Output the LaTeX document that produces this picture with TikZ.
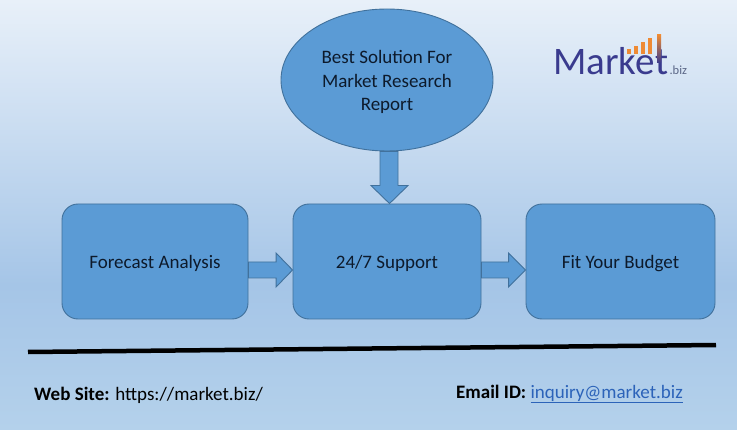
\documentclass[tikz,border=0pt]{standalone}
\usepackage{fontspec}
\setmainfont{Carlito}
\usetikzlibrary{calc,shapes.geometric}
\definecolor{boxfill}{HTML}{5B9BD5}
\definecolor{boxline}{HTML}{41719C}
\definecolor{txt}{HTML}{0D1A2B}
\definecolor{bgtop}{HTML}{E8F0F9}
\definecolor{bgmid}{HTML}{A5C5E7}
\definecolor{bgbot}{HTML}{B4D1EB}
\definecolor{logoblue}{HTML}{3A3B8E}
\definecolor{logoorange}{HTML}{EE8A34}
\definecolor{bizgrey}{HTML}{5A6686}
\definecolor{linkblue}{HTML}{2C63B9}
\begin{document}
\begin{tikzpicture}[x=1pt,y=1pt,
  box/.style={draw=boxline, fill=boxfill, line width=0.9pt, rounded corners=16pt,
    minimum width=186pt, minimum height=115pt, text=txt, inner sep=0pt, text depth=0pt,
    font=\fontsize{19}{23.5}\selectfont},
  oval/.style={ellipse, draw=boxline, fill=boxfill, line width=0.9pt,
    minimum width=212pt, minimum height=142pt, inner sep=0pt},
  ovaltext/.style={text=txt, align=center, inner sep=0pt,
    font=\fontsize{19}{23.5}\selectfont},
  blockarrow/.style={draw=boxline, fill=boxfill, line width=0.9pt, line join=miter},
  foot/.style={anchor=base west, text=black, inner sep=0pt, font=\fontsize{19}{22}\selectfont},
  logo/.style={anchor=base west, inner sep=0pt, text=logoblue, font=\fontsize{39}{40}\selectfont}]
\shade[top color=bgtop, bottom color=bgmid] (0,144) rectangle (737,429);
\shade[top color=bgmid, bottom color=bgbot] (0,0) rectangle (737,144.5);
\useasboundingbox (0,0) rectangle (737,429);

% nodes
\node[box] (fa) at (155,167.5) {Forecast Analysis};
\node[box, minimum width=188pt] (sup) at (387,167.5) {24/7 Support};
\node[box, minimum width=189pt] (fyb) at (620.5,167.5) {Fit Your Budget};
\node[oval] (best) at (387,349) {};
\node[ovaltext] (besttext) at ($(best.center)+(0,-2)$) {Best Solution For\\Market Research\\Report};

% block arrows
\draw[blockarrow] ($(best.south)+(-7,0)$) -- ($(sup.north)+(-7,18)$) -- ($(sup.north)+(-16,18)$)
  -- ($(sup.north)+(2.5,0)$) -- ($(sup.north)+(21,18)$) -- ($(sup.north)+(11,18)$)
  -- ($(best.south)+(11,0)$) -- cycle;
\draw[blockarrow] ($(fa.east)+(0,-0.5)$) -- ($(sup.west)+(-16.5,-0.5)$) -- ($(sup.west)+(-16.5,8.5)$)
  -- ($(sup.west)+(0,-8.5)$) -- ($(sup.west)+(-16.5,-25.5)$) -- ($(sup.west)+(-16.5,-16.5)$)
  -- ($(fa.east)+(0,-16.5)$) -- cycle;
\draw[blockarrow] ($(sup.east)+(0,-0.5)$) -- ($(fyb.west)+(-17,-0.5)$) -- ($(fyb.west)+(-17,8.5)$)
  -- ($(fyb.west)+(0,-8.5)$) -- ($(fyb.west)+(-17,-25.5)$) -- ($(fyb.west)+(-17,-16.5)$)
  -- ($(sup.east)+(0,-16.5)$) -- cycle;

% separator line
\coordinate (sepL) at (28,77);
\coordinate (sepR) at (716,84);
\draw[line width=4.5pt] (sepL) -- (sepR);

% footer
\node[foot] (web) at (34,29) {\textbf{Web Site:} https://market.biz/};
\node[foot] (mail) at (456,31) {\textbf{Email ID:} {\color{linkblue}\underline{inquiry@market.biz}}};

% logo
\node[logo] (mk) at (553,354) {Marke};
\node[logo] (mt) at (mk.base east) {t};
\coordinate (stem) at ($(mt.base west)+(2.3,0)$);
\foreach \dx/\bt in {-30/49,-23/46,-16/42,-9/38}{
  \fill[logoorange] ($(stem)+(\dx,21)$) rectangle ($(stem)+(\dx+3.6,429-354-\bt)$);
}
\shade[top color=logoorange, bottom color=logoblue] ($(stem)+(0,12)$) rectangle ($(stem)+(3.9,40)$);
\node[anchor=base west, inner sep=0pt, text=bizgrey, font=\fontsize{12.5}{14}\selectfont] (biz) at ($(mt.base east)+(1,0)$) {.biz};
\end{tikzpicture}
\end{document}
